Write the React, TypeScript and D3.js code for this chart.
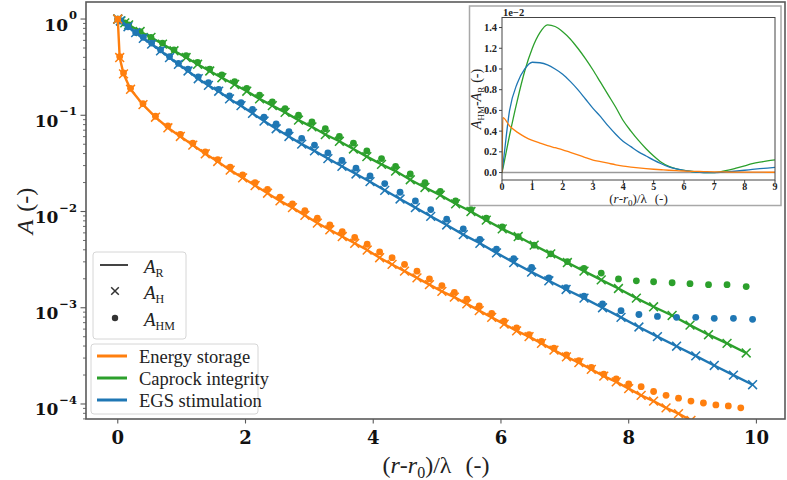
import React from 'react';
import * as d3 from 'd3';

// Energy storage: (r-r0)/lambda and log10 of A_R, A_H, A_HM
const storageX = [0, 0.03, 0.09, 0.2, 0.395, 0.59, 0.785, 0.98, 1.175, 1.37, 1.565, 1.76, 1.955, 2.15, 2.345, 2.54, 2.735, 2.93, 3.125, 3.32, 3.515, 3.71, 3.905, 4.1, 4.295, 4.49, 4.685, 4.88, 5.075, 5.27, 5.465, 5.66, 5.855, 6.05, 6.245, 6.44, 6.635, 6.83, 7.025, 7.22, 7.415, 7.61, 7.805, 8.0, 8.195, 8.39, 8.585, 8.78, 8.975, 9.17, 9.365, 9.56, 9.755];
const storageLogR = [0, -0.40, -0.57, -0.73, -0.89, -1.02, -1.13, -1.22, -1.31, -1.40, -1.48, -1.57, -1.65, -1.73, -1.81, -1.89, -1.96, -2.04, -2.12, -2.19, -2.26, -2.33, -2.40, -2.48, -2.55, -2.62, -2.69, -2.76, -2.83, -2.89, -2.96, -3.03, -3.10, -3.17, -3.24, -3.30, -3.37, -3.44, -3.51, -3.57, -3.64, -3.71, -3.77, -3.84, -3.91, -3.97, -4.04, -4.10, -4.17, -4.23, -4.30, -4.36, -4.43];
const storageLogH = [0, -0.40, -0.57, -0.73, -0.89, -1.02, -1.13, -1.22, -1.31, -1.40, -1.48, -1.57, -1.65, -1.73, -1.81, -1.89, -1.96, -2.04, -2.12, -2.19, -2.26, -2.33, -2.40, -2.48, -2.55, -2.62, -2.69, -2.76, -2.83, -2.89, -2.96, -3.03, -3.10, -3.17, -3.24, -3.30, -3.37, -3.44, -3.51, -3.57, -3.64, -3.71, -3.77, -3.84, -3.91, -3.97, -4.04, -4.10, -4.17, -4.23, -4.30, -4.36, -4.43];
const storageLogHM = [0, -0.39, -0.56, -0.72, -0.88, -1.01, -1.11, -1.20, -1.29, -1.38, -1.46, -1.54, -1.62, -1.70, -1.77, -1.85, -1.92, -1.99, -2.07, -2.14, -2.21, -2.27, -2.34, -2.42, -2.48, -2.55, -2.62, -2.70, -2.77, -2.84, -2.91, -2.98, -3.06, -3.14, -3.21, -3.28, -3.35, -3.42, -3.49, -3.55, -3.62, -3.69, -3.74, -3.79, -3.82, -3.87, -3.91, -3.94, -3.97, -3.99, -4.01, -4.02, -4.04];

// Caprock integrity
const caprockX = [0, 0.05, 0.11, 0.17, 0.35, 0.52, 0.70, 0.88, 1.07, 1.25, 1.44, 1.63, 1.83, 2.02, 2.22, 2.42, 2.62, 2.83, 3.04, 3.25, 3.47, 3.69, 3.90, 4.13, 4.35, 4.58, 4.81, 5.05, 5.29, 5.53, 5.77, 6.02, 6.27, 6.52, 6.78, 7.04, 7.30, 7.57, 7.84, 8.12, 8.39, 8.68, 8.96, 9.25, 9.54, 9.84];
const caprockLogR = [0, -0.02, -0.04, -0.06, -0.13, -0.19, -0.26, -0.33, -0.40, -0.47, -0.54, -0.61, -0.68, -0.75, -0.83, -0.90, -0.97, -1.05, -1.12, -1.20, -1.27, -1.35, -1.43, -1.51, -1.58, -1.67, -1.75, -1.83, -1.92, -2.00, -2.09, -2.18, -2.26, -2.35, -2.44, -2.53, -2.62, -2.71, -2.80, -2.90, -2.99, -3.08, -3.18, -3.28, -3.37, -3.47];
const caprockLogH = [0, -0.02, -0.04, -0.06, -0.13, -0.19, -0.26, -0.33, -0.40, -0.47, -0.54, -0.61, -0.68, -0.75, -0.83, -0.90, -0.97, -1.05, -1.12, -1.20, -1.27, -1.35, -1.43, -1.51, -1.58, -1.67, -1.75, -1.83, -1.92, -2.00, -2.09, -2.18, -2.26, -2.35, -2.44, -2.53, -2.62, -2.71, -2.80, -2.90, -2.99, -3.08, -3.18, -3.28, -3.37, -3.47];
const caprockLogHM = [0, -0.02, -0.04, -0.06, -0.13, -0.19, -0.25, -0.32, -0.38, -0.45, -0.52, -0.58, -0.65, -0.72, -0.79, -0.86, -0.93, -1.00, -1.07, -1.14, -1.22, -1.29, -1.37, -1.45, -1.53, -1.61, -1.70, -1.79, -1.89, -1.98, -2.07, -2.16, -2.26, -2.35, -2.44, -2.52, -2.59, -2.64, -2.70, -2.72, -2.73, -2.74, -2.75, -2.76, -2.76, -2.78];

// EGS stimulation
const egsX = [0, 0.04, 0.16, 0.28, 0.4, 0.53, 0.67, 0.81, 0.95, 1.1, 1.26, 1.42, 1.58, 1.75, 1.93, 2.11, 2.29, 2.48, 2.68, 2.88, 3.08, 3.29, 3.51, 3.73, 3.95, 4.18, 4.42, 4.66, 4.9, 5.15, 5.41, 5.67, 5.93, 6.2, 6.48, 6.75, 7.02, 7.3, 7.59, 7.88, 8.16, 8.45, 8.75, 9.05, 9.34, 9.64, 9.94];
const egsLogR = [0, -0.02, -0.08, -0.14, -0.20, -0.26, -0.33, -0.40, -0.47, -0.54, -0.62, -0.69, -0.75, -0.83, -0.90, -0.98, -1.06, -1.14, -1.22, -1.30, -1.37, -1.45, -1.53, -1.61, -1.69, -1.78, -1.87, -1.96, -2.05, -2.14, -2.24, -2.33, -2.43, -2.53, -2.63, -2.72, -2.81, -2.90, -3.00, -3.10, -3.20, -3.30, -3.40, -3.50, -3.60, -3.70, -3.80];
const egsLogH = [0, -0.02, -0.08, -0.14, -0.20, -0.26, -0.33, -0.40, -0.47, -0.54, -0.62, -0.69, -0.75, -0.83, -0.90, -0.98, -1.06, -1.14, -1.22, -1.30, -1.37, -1.45, -1.53, -1.61, -1.69, -1.78, -1.87, -1.96, -2.05, -2.14, -2.24, -2.33, -2.43, -2.53, -2.63, -2.72, -2.81, -2.90, -3.00, -3.10, -3.20, -3.30, -3.40, -3.50, -3.60, -3.70, -3.80];
const egsLogHM = [0, -0.02, -0.08, -0.14, -0.19, -0.25, -0.32, -0.39, -0.46, -0.52, -0.60, -0.66, -0.73, -0.80, -0.87, -0.94, -1.02, -1.09, -1.17, -1.24, -1.31, -1.39, -1.47, -1.55, -1.63, -1.71, -1.80, -1.89, -1.98, -2.08, -2.18, -2.29, -2.39, -2.49, -2.58, -2.69, -2.79, -2.88, -2.96, -3.03, -3.07, -3.09, -3.10, -3.10, -3.11, -3.11, -3.12];

// inset: A_HM - A_R, in units of 1e-2
const diffX = [0, 0.03, 0.25, 0.5, 0.75, 1, 1.25, 1.5, 1.75, 2, 2.25, 2.5, 2.75, 3, 3.25, 3.5, 3.75, 4, 4.25, 4.5, 4.75, 5, 5.25, 5.5, 5.75, 6, 6.25, 6.5, 6.75, 7, 7.25, 7.5, 7.75, 8, 8.25, 8.5, 8.75, 9];
const diffStorage = [0, 0.53, 0.45, 0.39, 0.345, 0.31, 0.285, 0.26, 0.24, 0.22, 0.195, 0.17, 0.145, 0.12, 0.105, 0.09, 0.075, 0.062, 0.053, 0.045, 0.038, 0.032, 0.027, 0.022, 0.018, 0.015, 0.012, 0.01, 0.008, 0.007, 0.006, 0.005, 0.005, 0.004, 0.004, 0.004, 0.003, 0.003];
const diffCaprock = [0, 0.04, 0.36, 0.69, 0.98, 1.2, 1.35, 1.425, 1.41, 1.36, 1.29, 1.2, 1.1, 0.99, 0.87, 0.75, 0.63, 0.5, 0.4, 0.31, 0.23, 0.16, 0.1, 0.06, 0.035, 0.02, 0.01, 0.004, 0, 0, 0.01, 0.025, 0.045, 0.065, 0.085, 0.1, 0.112, 0.122];
const diffEgs = [0, 0.07, 0.6, 0.86, 1.0, 1.065, 1.06, 1.04, 1.0, 0.95, 0.88, 0.8, 0.71, 0.62, 0.54, 0.45, 0.37, 0.3, 0.25, 0.2, 0.16, 0.12, 0.085, 0.055, 0.035, 0.02, 0.01, 0.003, 0, 0, 0.003, 0.008, 0.015, 0.022, 0.03, 0.037, 0.043, 0.05];

const caseLabels = ['Energy storage', 'Caprock integrity', 'EGS stimulation'];
const caseColors = ['#ff7f0e', '#2ca02c', '#1f77b4'];

const xTicks = [0, 2, 4, 6, 8, 10];
const yDecades = [0, -1, -2, -3, -4];
const insetXTicks = [0, 1, 2, 3, 4, 5, 6, 7, 8, 9];
const insetYTicks = [0, 0.2, 0.4, 0.6, 0.8, 1.0, 1.2, 1.4];

const FONT = '"Liberation Serif", "Times New Roman", Times, serif';
const TICK_FONT = '"DejaVu Serif", serif';
const SPINE = '#5a5a5a';

const crossPath = (cx: number, cy: number, s: number) =>
  `M${cx - s},${cy - s}L${cx + s},${cy + s}M${cx - s},${cy + s}L${cx + s},${cy - s}`;

export default function App() {
  const W = 787;
  const H = 480;
  const m = { left: 86, right: 785, top: 2, bottom: 419 };

  const x = d3.scaleLinear().domain([-0.4975, 10.4475]).range([m.left, m.right]);
  const y = d3
    .scaleLog()
    .domain([Math.pow(10, -4.156), Math.pow(10, 0.177)])
    .range([m.bottom, m.top]);

  const minorTicks = y.ticks().filter((t) => {
    const mant = t / Math.pow(10, Math.floor(Math.log10(t) + 1e-9));
    return Math.abs(mant - 1) > 1e-6;
  });

  const cases = [
    { color: caseColors[1], xs: caprockX, r: caprockLogR, h: caprockLogH, hm: caprockLogHM },
    { color: caseColors[2], xs: egsX, r: egsLogR, h: egsLogH, hm: egsLogHM },
    { color: caseColors[0], xs: storageX, r: storageLogR, h: storageLogH, hm: storageLogHM },
  ];

  const mainLine = (xs: number[], ls: number[]) =>
    d3
      .line<number>()
      .x((_, i) => x(xs[i]))
      .y((v) => y(Math.pow(10, v)))(ls) || '';

  // inset axes
  const ib = { left: 502, right: 775, top: 17.5, bottom: 180 };
  const ix = d3.scaleLinear().domain([0, 9]).range([ib.left, ib.right]);
  const iy = d3.scaleLinear().domain([-0.072, 1.497]).range([ib.bottom, ib.top]);
  const insetLine = (vals: number[]) =>
    d3
      .line<number>()
      .x((_, i) => ix(diffX[i]))
      .y((v) => iy(v))
      .curve(d3.curveMonotoneX)(vals) || '';

  const insetCurves = [
    { color: caseColors[1], vals: diffCaprock },
    { color: caseColors[2], vals: diffEgs },
    { color: caseColors[0], vals: diffStorage },
  ];

  return (
    <svg
      width={W}
      height={H}
      style={{ position: 'absolute', left: 0, top: 0 }}
      fontFamily={FONT}
    >
      <defs>
        <clipPath id="main-clip">
          <rect x={m.left} y={m.top} width={m.right - m.left} height={m.bottom - m.top} />
        </clipPath>
        <clipPath id="inset-clip">
          <rect x={ib.left} y={ib.top} width={ib.right - ib.left} height={ib.bottom - ib.top} />
        </clipPath>
      </defs>
      <rect width={W} height={H} fill="#fff" />

      {/* data */}
      <g clipPath="url(#main-clip)">
        {cases.map((c, k) => (
          <g key={k}>
            <path d={mainLine(c.xs, c.r)} fill="none" stroke={c.color} strokeWidth={2.4} />
            {c.xs.map((xv, i) => (
              <path
                key={'h' + i}
                d={crossPath(x(xv), y(Math.pow(10, c.h[i])), 4.4)}
                stroke={c.color}
                strokeWidth={1.5}
                fill="none"
              />
            ))}
            {c.xs.map((xv, i) => (
              <circle key={'m' + i} cx={x(xv)} cy={y(Math.pow(10, c.hm[i]))} r={3.4} fill={c.color} />
            ))}
          </g>
        ))}
      </g>

      {/* frame */}
      <rect
        x={m.left}
        y={m.top}
        width={m.right - m.left}
        height={m.bottom - m.top}
        fill="none"
        stroke={SPINE}
        strokeWidth={1.6}
      />

      {/* y axis */}
      {minorTicks.map((t, i) => (
        <line key={'mn' + i} x1={m.left - 3} x2={m.left} y1={y(t)} y2={y(t)} stroke={SPINE} strokeWidth={0.9} />
      ))}
      {yDecades.map((e) => {
        const py = y(Math.pow(10, e));
        return (
          <g key={'yd' + e}>
            <line x1={m.left - 5.5} x2={m.left} y1={py} y2={py} stroke={SPINE} strokeWidth={1.1} />
            <text
              x={77}
              y={py + 11.5}
              textAnchor="end"
              fontFamily={TICK_FONT}
              fontSize={17}
              fontWeight="bold"
              fill="#111"
            >
              10
              <tspan dy={-11.5} dx={1} fontSize={11.5}>
                {e === 0 ? '0' : '\u2212' + -e}
              </tspan>
            </text>
          </g>
        );
      })}

      {/* x axis */}
      {xTicks.map((t) => (
        <g key={'xt' + t}>
          <line x1={x(t)} x2={x(t)} y1={m.bottom} y2={m.bottom + 4.5} stroke={SPINE} strokeWidth={1.1} />
          <text
            x={x(t)}
            y={443.5}
            textAnchor="middle"
            fontFamily={TICK_FONT}
            fontSize={18}
            fontWeight="bold"
            fill="#111"
          >
            {t}
          </text>
        </g>
      ))}

      <text x={436} y={473} textAnchor="middle" fontSize={24} fill="#222" style={{ whiteSpace: 'pre' }}>
        (<tspan fontStyle="italic">r</tspan>-<tspan fontStyle="italic">r</tspan>
        <tspan fontSize={16} dy={5}>0</tspan>
        <tspan dy={-5}>)/λ</tspan>
        <tspan dx={14}>(-)</tspan>
      </text>

      <text transform="translate(33,211) rotate(-90)" textAnchor="middle" fontSize={24} fill="#222">
        <tspan fontStyle="italic">A</tspan>
        <tspan dx={8}>(-)</tspan>
      </text>

      {/* legend: quantities */}
      <rect x={93} y={252} width={93} height={87} rx={3} fill="#fff" fillOpacity={0.85} stroke="#d6d6d6" />
      <line x1={100} x2={128} y1={265} y2={265} stroke="#444" strokeWidth={2} />
      <path d={crossPath(115, 291, 3.8)} stroke="#333" strokeWidth={1.5} />
      <circle cx={115} cy={318} r={3.2} fill="#333" />
      {[
        { sub: 'R', yy: 265 },
        { sub: 'H', yy: 291 },
        { sub: 'HM', yy: 318 },
      ].map((d) => (
        <text key={d.sub} x={144} y={d.yy + 8} fontSize={19} fill="#222">
          <tspan fontStyle="italic">A</tspan>
          <tspan fontSize={12} dy={4}>
            {d.sub}
          </tspan>
        </text>
      ))}

      {/* legend: cases */}
      <rect x={91} y={344} width={167} height={70} rx={3} fill="#fff" fillOpacity={0.85} stroke="#d6d6d6" />
      {caseLabels.map((lab, i) => {
        const yy = 356 + i * 22;
        return (
          <g key={lab}>
            <line x1={97} x2={127} y1={yy} y2={yy} stroke={caseColors[i]} strokeWidth={3} />
            <text x={139} y={yy + 7} fontSize={18.5} fill="#222">
              {lab}
            </text>
          </g>
        );
      })}

      {/* inset */}
      <rect x={469.5} y={6} width={311.5} height={199.5} fill="#fff" stroke="#a8a8a8" strokeWidth={1.5} />
      <line x1={ib.left} x2={ib.right} y1={iy(0)} y2={iy(0)} stroke="#9a9a9a" strokeWidth={1.5} />
      <g clipPath="url(#inset-clip)">
        {insetCurves.map((c, k) => (
          <path key={k} d={insetLine(c.vals)} fill="none" stroke={c.color} strokeWidth={1.3} />
        ))}
      </g>
      <rect
        x={ib.left}
        y={ib.top}
        width={ib.right - ib.left}
        height={ib.bottom - ib.top}
        fill="none"
        stroke="#444"
        strokeWidth={1}
      />
      {insetXTicks.map((t) => (
        <g key={'ixt' + t}>
          <line x1={ix(t)} x2={ix(t)} y1={ib.bottom} y2={ib.bottom + 3} stroke="#444" />
          <text x={ix(t)} y={189.5} textAnchor="middle" fontSize={10} fontWeight="bold" fill="#222">
            {t}
          </text>
        </g>
      ))}
      {insetYTicks.map((t) => (
        <g key={'iyt' + t}>
          <line x1={ib.left - 3} x2={ib.left} y1={iy(t)} y2={iy(t)} stroke="#444" />
          <text x={ib.left - 5} y={iy(t) + 3.5} textAnchor="end" fontSize={10.5} fontWeight="bold" fill="#222">
            {t.toFixed(1)}
          </text>
        </g>
      ))}
      <text x={ib.left + 1} y={15.5} fontSize={10.5} fontWeight="bold" fill="#222">
        1e−2
      </text>
      <text transform="translate(481,99) rotate(-90)" textAnchor="middle" fontSize={14} fill="#222">
        <tspan fontStyle="italic">A</tspan>
        <tspan fontSize={9} dy={3}>HM</tspan>
        <tspan dy={-3}>-</tspan>
        <tspan fontStyle="italic">A</tspan>
        <tspan fontSize={9} dy={3}>R</tspan>
        <tspan dy={-3} dx={4}>(-)</tspan>
      </text>
      <text x={638.5} y={203} textAnchor="middle" fontSize={13} fill="#222">
        (<tspan fontStyle="italic">r</tspan>-<tspan fontStyle="italic">r</tspan>
        <tspan fontSize={9} dy={3}>0</tspan>
        <tspan dy={-3}>)/λ</tspan>
        <tspan dx={8}>(-)</tspan>
      </text>
    </svg>
  );
}
